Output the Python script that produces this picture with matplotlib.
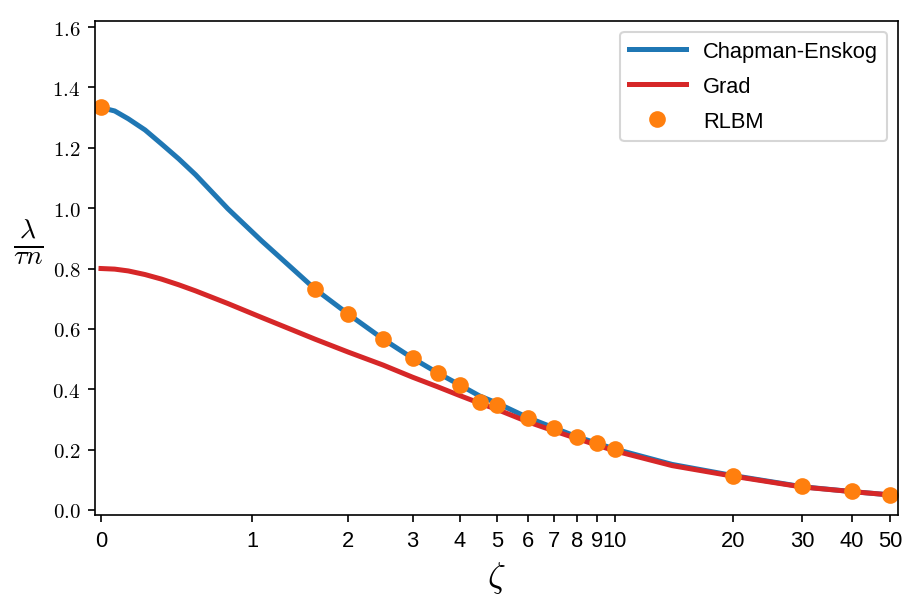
import matplotlib
matplotlib.use("Agg")
import matplotlib.pyplot as plt

# --- data ---
zeta_curve = [0, 0.08, 0.16, 0.26, 0.36, 0.47, 0.58, 0.81, 1.08, 1.39, 1.6, 2, 2.5, 3, 3.5,
              4, 4.5, 5, 6, 7, 8, 10, 14, 20, 30, 40, 50]
chapman_enskog = [1.333, 1.322, 1.296, 1.259, 1.213, 1.163, 1.111, 0.998, 0.892, 0.792, 0.732,
                  0.649, 0.566, 0.503, 0.454, 0.414, 0.378, 0.354, 0.306, 0.272, 0.243,
                  0.202, 0.151, 0.114, 0.077, 0.061, 0.050]
grad = [0.800, 0.798, 0.792, 0.780, 0.765, 0.746, 0.726, 0.684, 0.638, 0.593, 0.566,
        0.523, 0.480, 0.440, 0.408, 0.379, 0.354, 0.333, 0.292, 0.262, 0.237,
        0.196, 0.147, 0.112, 0.076, 0.061, 0.050]

zeta_rlbm = [0, 1.6, 2, 2.5, 3, 3.5, 4, 4.5, 5, 6, 7, 8, 9, 10, 20, 30, 40, 50]
rlbm = [1.334, 0.732, 0.649, 0.566, 0.503, 0.454, 0.414, 0.358, 0.348, 0.305,
        0.272, 0.242, 0.222, 0.202, 0.113, 0.079, 0.063, 0.050]

xticks = [0, 1, 2, 3, 4, 5, 6, 7, 8, 9, 10, 20, 30, 40, 50]
yticks = [0.0, 0.2, 0.4, 0.6, 0.8, 1.0, 1.2, 1.4, 1.6]

plt.rcParams['mathtext.fontset'] = 'cm'
plt.rcParams['font.family'] = ['Liberation Sans', 'DejaVu Sans']

fig = plt.figure(figsize=(922 / 150, 603 / 150), dpi=150)
ax = fig.add_axes([95 / 922, 1 - 516 / 603, (898 - 95) / 922, (516 - 22) / 603])

ax.plot(zeta_curve, chapman_enskog, color='#1f77b4', lw=2.4, label='Chapman-Enskog')
ax.plot(zeta_curve, grad, color='#d62728', lw=2.4, label='Grad')
ax.plot(zeta_rlbm, rlbm, 'o', color='#ff7f0e', ms=7, label='RLBM')

ax.set_xscale('asinh', linear_width=1)
ax.set_xlim(-0.035, 52.4)
ax.set_ylim(-0.0166, 1.62)
ax.set_xticks(xticks)
ax.set_xticklabels([str(t) for t in xticks])
ax.xaxis.set_minor_locator(matplotlib.ticker.NullLocator())
ax.set_yticks(yticks)
ax.set_yticklabels([f'${v:.1f}$' for v in yticks])
ax.tick_params(axis='x', labelsize=10.5)
ax.tick_params(axis='y', labelsize=10)

ax.set_xlabel(r'$\zeta$', fontsize=17)
ax.set_ylabel(r'$\frac{\lambda}{\tau n}$', fontsize=19, rotation=0, ha='center', va='center')
ax.yaxis.set_label_coords(-0.083, 0.553)

ax.legend(loc='upper right', fontsize=10.5, handlelength=2.6, labelspacing=0.65)

fig.savefig('out.png', dpi=150)
